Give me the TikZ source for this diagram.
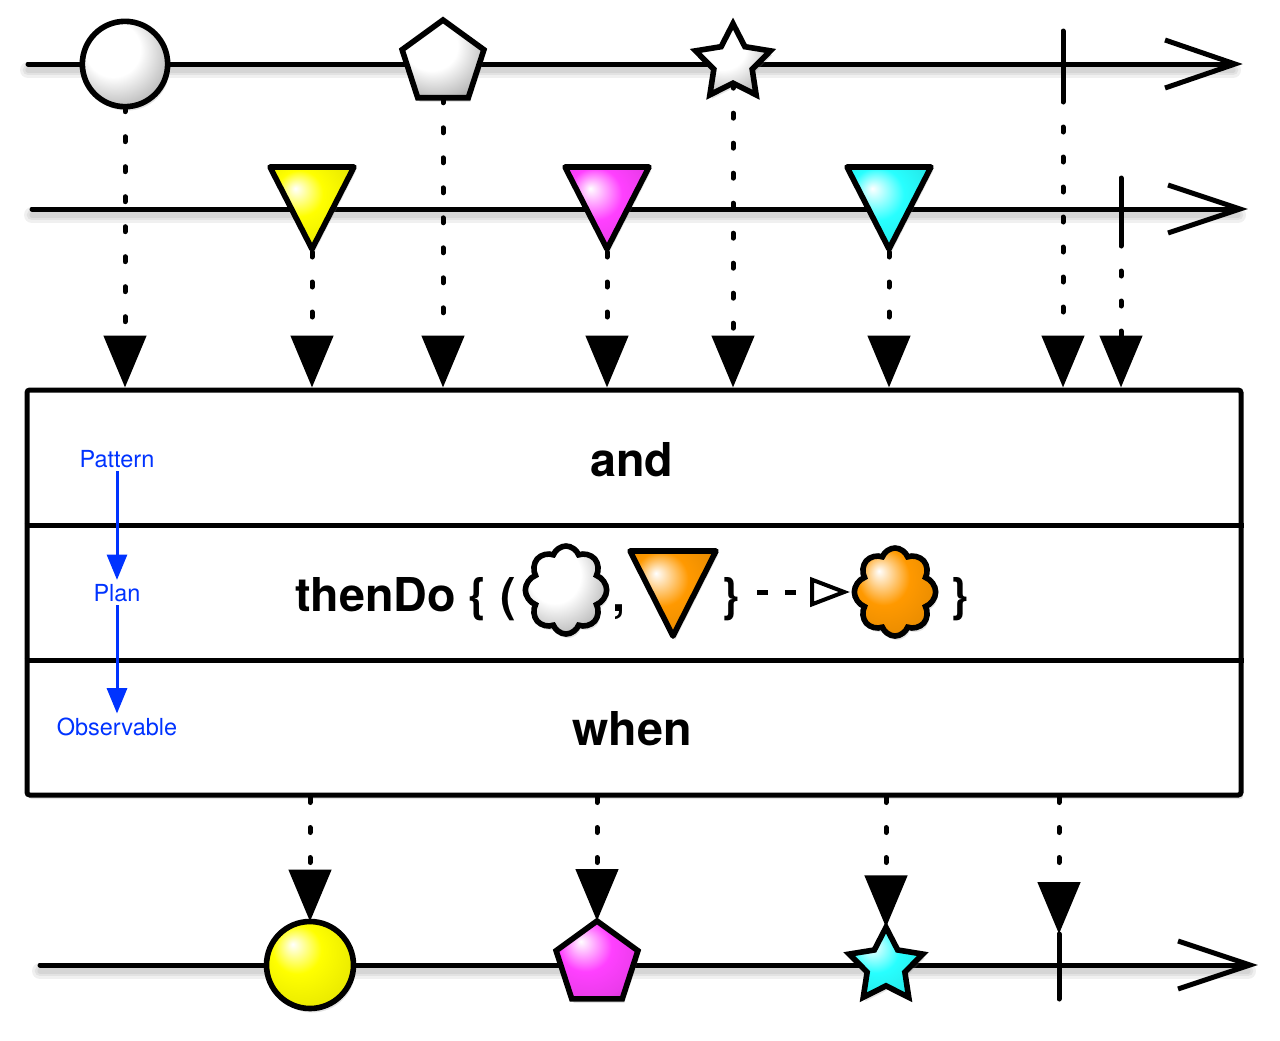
\documentclass[tikz,border=0pt]{standalone}
\usepackage{fontspec}
\setmainfont{TeX Gyre Heros}
\usetikzlibrary{arrows.meta,shapes.geometric,shapes.symbols,shadows,calc}

\definecolor{myyellow}{RGB}{255,255,0}
\definecolor{mymag}{RGB}{255,64,255}
\definecolor{mycyan}{RGB}{40,255,255}
\definecolor{myorange}{RGB}{255,153,0}
\definecolor{lblue}{RGB}{0,51,255}

\pgfdeclareradialshading{gwhite}{\pgfqpoint{-10bp}{12bp}}{color(0bp)=(white); color(16bp)=(white); color(30bp)=(black!25); color(42bp)=(black!55); color(54bp)=(black!68)}
\pgfdeclareradialshading{gyellow}{\pgfqpoint{-10bp}{12bp}}{color(0bp)=(white); color(14bp)=(myyellow); color(30bp)=(myyellow!92!black); color(42bp)=(myyellow!72!black); color(54bp)=(myyellow!55!black)}
\pgfdeclareradialshading{gmag}{\pgfqpoint{-10bp}{12bp}}{color(0bp)=(white); color(16bp)=(mymag); color(30bp)=(mymag!92!black); color(42bp)=(mymag!72!black); color(54bp)=(mymag!55!black)}
\pgfdeclareradialshading{gcyan}{\pgfqpoint{-10bp}{12bp}}{color(0bp)=(white); color(16bp)=(mycyan); color(30bp)=(mycyan!92!black); color(42bp)=(mycyan!72!black); color(54bp)=(mycyan!55!black)}
\pgfdeclareradialshading{gorange}{\pgfqpoint{-10bp}{12bp}}{color(0bp)=(white); color(16bp)=(myorange); color(30bp)=(myorange!92!black); color(42bp)=(myorange!72!black); color(54bp)=(myorange!55!black)}

\begin{document}
\begin{tikzpicture}[x=0.75pt,y=-0.75pt,
  tline/.style={line width=3.75pt, line cap=round},
  lshadow/.style={line width=#1, black, opacity=0.06, line cap=round, transform canvas={yshift=-4.5pt}},
  chev/.style={line width=3.75pt, line join=miter, line cap=butt},
  dots/.style={line width=3.75pt, line cap=round, dash pattern=on 3.75pt off 18.75pt, -{Triangle[width=31.5pt,length=39pt]}},
  softshadow/.style={drop shadow={shadow xshift=1.5pt, shadow yshift=-3pt, opacity=0.22}},
  marble/.style={draw, line width=4.2pt, inner sep=0pt, outer sep=0pt, softshadow},
  tri/.style={draw, line width=4.2pt, line join=round, softshadow},
  puff/.style={draw, cloud, cloud puffs=8, cloud puff arc=140, aspect=0.95, line width=4.2pt, inner sep=0pt, minimum width=61pt, minimum height=66pt, softshadow},
  big/.style={font=\fontsize{35}{40}\selectfont\bfseries, anchor=base, inner sep=0pt},
  lbl/.style={font=\fontsize{17.6}{20}\selectfont, text=lblue, anchor=base, inner sep=0pt, outer sep=3pt},
  barrow/.style={draw=lblue, line width=2.25pt, -{Triangle[width=15pt,length=19pt]}},
  tick/.style={line width=3.75pt, line cap=round}
]
\useasboundingbox (0,0) rectangle (1280,1040);

% ---------- horizontal time lines ----------
\coordinate (a1) at (28,64);   \coordinate (e1) at (1233,64);
\coordinate (a2) at (32,209);  \coordinate (e2) at (1238,209);
\coordinate (a3) at (40,965);  \coordinate (e3) at (1248,965);
\foreach \w in {12pt,8pt,4pt}{
  \draw[lshadow=\w] (a1) -- (e1);
  \draw[lshadow=\w] (a2) -- (e2);
  \draw[lshadow=\w] (a3) -- (e3);
}
\draw[tline] (a1) -- (e1);
\draw[chev] ($(e1)+(-68,-24)$) -- ($(e1)+(2,0)$) -- ($(e1)+(-68,24)$);
\draw[tline] (a2) -- (e2);
\draw[chev] ($(e2)+(-70,-24)$) -- ($(e2)+(2,0)$) -- ($(e2)+(-70,24)$);
\draw[tline] (a3) -- (e3);
\draw[chev] ($(e3)+(-70,-24)$) -- ($(e3)+(2,0)$) -- ($(e3)+(-70,24)$);

% ---------- first source ----------
\node[marble, circle, shading=gwhite, minimum size=64pt] (c1) at (125,64) {};
\node[marble, regular polygon, regular polygon sides=5, shading=gwhite, minimum size=64.5pt] (p1) at (443,63) {};
\node[marble, star, star points=5, star point ratio=1.95, shading=gwhite, minimum size=59pt] (s1) at (733,63) {};
\coordinate (k1t) at (1063,31); \coordinate (k1b) at (1063,97);
\draw[tick] (k1t) -- (k1b);

% ---------- second source ----------
\coordinate (t1) at (312,208);
\coordinate (t2) at (607,208);
\coordinate (t3) at (889,208);
\draw[tri, shading=gyellow] ($(t1)+(-42,-41)$) -- ($(t1)+(42,-41)$) -- ($(t1)+(0,41)$) -- cycle;
\draw[tri, shading=gmag] ($(t2)+(-42,-41)$) -- ($(t2)+(42,-41)$) -- ($(t2)+(0,41)$) -- cycle;
\draw[tri, shading=gcyan] ($(t3)+(-42,-41)$) -- ($(t3)+(42,-41)$) -- ($(t3)+(0,41)$) -- cycle;
\coordinate (t1tip) at ($(t1)+(0,44)$);
\coordinate (t2tip) at ($(t2)+(0,44)$);
\coordinate (t3tip) at ($(t3)+(0,44)$);
\coordinate (k2t) at (1121,178); \coordinate (k2b) at (1121,241);
\draw[tick] (k2t) -- (k2b);

% ---------- operator box ----------
\node[draw, fill=white, line width=3.75pt, rounded corners=2pt, inner sep=0pt,
      minimum width=910.5pt, minimum height=303.75pt, softshadow] (box) at (634,592.5) {};
\coordinate (r1) at (0,525); \coordinate (r2) at (0,660);
\draw[line width=3.75pt] (box.west |- r1) -- (box.east |- r1);
\draw[line width=3.75pt] (box.west |- r2) -- (box.east |- r2);

% ---------- connectors into the box ----------
\draw[dots] (c1.south) -- (c1 |- box.north);
\draw[dots] (t1tip) -- (t1tip |- box.north);
\draw[dots] (p1.south) -- (p1 |- box.north);
\draw[dots] (t2tip) -- (t2tip |- box.north);
\draw[dots] (s1.south) -- (s1 |- box.north);
\draw[dots] (t3tip) -- (t3tip |- box.north);
\draw[dots] (k1b) -- (k1b |- box.north);
\draw[dots] (k2b) -- (k2b |- box.north);

% ---------- box texts ----------
\node[big] (andtxt) at (632,476) {and};
\node[big] (whentxt) at (632,745) {when};
\node[big, anchor=base west] (thentxt) at (295,611) {thenDo \{ (};
\node[puff, shading=gwhite] (cl1) at (566,590) {};
\node[big] (comma) at (619,611) {,};
\coordinate (t4) at (673,594);
\draw[tri, shading=gorange] ($(t4)+(-43,-43)$) -- ($(t4)+(43,-43)$) -- ($(t4)+(0,42)$) -- cycle;
\node[big] (rb1) at (731,611) {\}};
\coordinate (ds) at (757,592);
\coordinate (ot) at (850,592);
\draw[line width=3.75pt, dash pattern=on 8.25pt off 12.75pt,
      -{Triangle[open, length=30pt, width=22pt, line width=3pt]}] (ds) -- (ot);
\node[puff, shading=gorange] (cl2) at (895,592) {};
\node[big] (rb2) at (960,611) {\}};

\node[lbl] (pat) at (117,467) {Pattern};
\node[lbl] (plan) at (117,601) {Plan};
\node[lbl] (obs) at (117,735) {Observable};
\draw[barrow] (pat) -- (plan);
\draw[barrow] (plan) -- (obs);

% ---------- result ----------
\node[marble, circle, shading=gyellow, minimum size=65.25pt] (c2) at (310,965) {};
\node[marble, regular polygon, regular polygon sides=5, shading=gmag, minimum size=64.5pt] (p2) at (597,964) {};
\node[marble, star, star points=5, star point ratio=1.95, shading=gcyan, minimum size=58pt] (s2) at (886,966) {};
\coordinate (k3t) at (1059,934); \coordinate (k3b) at (1059,999);
\draw[tick] (k3t) -- (k3b);

\draw[dots] (box.south -| c2) -- (c2.north);
\draw[dots] (box.south -| p2) -- (p2.north);
\draw[dots] (box.south -| s2) -- (s2.north);
\draw[dots] (box.south -| k3t) -- (k3t);
\end{tikzpicture}
\end{document}
